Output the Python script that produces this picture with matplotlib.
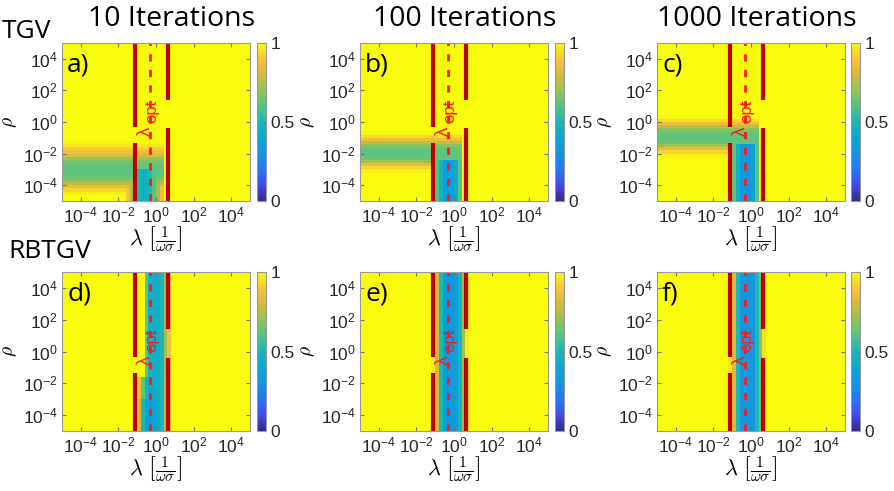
import numpy as np
import matplotlib
matplotlib.use('Agg')
import matplotlib.pyplot as plt
from matplotlib.colors import LinearSegmentedColormap
from matplotlib.ticker import NullLocator
from matplotlib.transforms import offset_copy

plt.rcParams['font.family'] = ['Liberation Sans', 'DejaVu Sans']
plt.rcParams['mathtext.fontset'] = 'cm'

# parula-like colormap (approximate anchors)
parula_pos = [0.0, 0.1, 0.2, 0.3, 0.4, 0.5, 0.6, 0.7, 0.8, 0.9, 0.95, 1.0]
parula_rgb = [(0.208, 0.166, 0.529), (0.263, 0.290, 0.930), (0.130, 0.470, 0.960),
              (0.070, 0.580, 0.890), (0.040, 0.660, 0.820), (0.100, 0.720, 0.720),
              (0.320, 0.770, 0.520), (0.580, 0.760, 0.340), (0.830, 0.730, 0.240),
              (0.990, 0.760, 0.220), (0.960, 0.880, 0.150), (0.976, 0.983, 0.054)]
parula = LinearSegmentedColormap.from_list('parula', list(zip(parula_pos, parula_rgb)))

# grid: log10 cell edges for lambda and rho
log_edges = np.linspace(-5, 5, 51)
lam_edges = 10.0 ** log_edges
rho_edges = 10.0 ** log_edges

# marker lines
lam_low = 0.074
lam_high = 4.5
lam_opt = 0.5
gap_low = (10 ** -1.33, 10 ** -0.32)   # gap in left line
gap_high = (10 ** -0.38, 10 ** 1.39)   # gap in right line
label_pos = (0.4, 1.35)

# TGV: horizontal band (rows) + column between the lines
band_a_start, band_a = -4.6, [0.98, 0.93, 0.85, 0.76, 0.68, 0.64, 0.62, 0.62, 0.62,
                              0.63, 0.66, 0.72, 0.80, 0.86, 0.92, 0.96, 0.99]
band_b_start, band_b = -3.2, [0.98, 0.93, 0.84, 0.72, 0.64, 0.62, 0.62, 0.63, 0.68,
                              0.78, 0.87, 0.94, 0.99]
band_c_start, band_c = -2.2, [0.98, 0.93, 0.84, 0.72, 0.64, 0.62, 0.62, 0.63, 0.68,
                              0.78, 0.87, 0.94, 0.99]
col_tgv_start = -1.6
col_a = [0.90, 0.75, 0.60, 0.50, 0.45, 0.45, 0.50, 0.60, 0.72, 0.88, 1.0]
col_b = [1.0, 1.0, 1.0, 0.60, 0.45, 0.35, 0.33, 0.35, 0.42, 0.60, 1.0]
col_c = [1.0, 1.0, 1.0, 0.62, 0.45, 0.33, 0.32, 0.32, 0.40, 0.62, 1.0]
col_top = {'a': -3.0, 'b': -2.4, 'c': -1.4}
band_end = 0.4

# RBTGV: vertical column profiles
col_rb_start = -1.2
col_d_top = [1.0, 1.0, 1.0, 0.62, 0.45, 0.44, 0.45, 0.50, 0.72, 0.88]
col_d_mid = [1.0, 0.90, 0.62, 0.48, 0.42, 0.42, 0.44, 0.50, 0.75, 0.90]
col_d_bot = [0.95, 0.80, 0.50, 0.38, 0.36, 0.38, 0.42, 0.50, 0.78, 0.88]
d_breaks = [-3.0, -1.6]
col_e = [0.97, 0.80, 0.50, 0.35, 0.33, 0.33, 0.35, 0.48, 0.72, 0.97]
col_f = [0.95, 0.82, 0.50, 0.32, 0.32, 0.32, 0.32, 0.50, 0.68, 0.95]


def idx(v):
    return int(round((v + 5) / 0.2))


def tgv_map(b_start, b_vals, c_vals, c_top):
    Z = np.ones((50, 50))
    r0 = idx(b_start)
    ce = idx(band_end)
    for k, v in enumerate(b_vals):
        Z[r0 + k, :ce] = np.minimum(Z[r0 + k, :ce], v)
    c0 = idx(col_tgv_start)
    rt = idx(c_top)
    for k, v in enumerate(c_vals):
        Z[:rt, c0 + k] = np.minimum(Z[:rt, c0 + k], v)
    return Z


def rb_map(profiles, breaks):
    Z = np.ones((50, 50))
    c0 = idx(col_rb_start)
    rows = [0] + [idx(b) for b in breaks] + [50]
    for p, prof in enumerate(profiles):
        for k, v in enumerate(prof):
            Z[rows[p]:rows[p + 1], c0 + k] = v
    return Z


maps = [tgv_map(band_a_start, band_a, col_a, col_top['a']),
        tgv_map(band_b_start, band_b, col_b, col_top['b']),
        tgv_map(band_c_start, band_c, col_c, col_top['c']),
        rb_map([col_d_bot, col_d_mid, col_d_top], d_breaks),
        rb_map([col_e], []),
        rb_map([col_f], [])]
letters = ['a)', 'b)', 'c)', 'd)', 'e)', 'f)']
titles = ['10 Iterations', '100 Iterations', '1000 Iterations']

W, H = 894, 491
fig = plt.figure(figsize=(W / 100, H / 100), dpi=100)

ax_left = [62, 360, 657]
cb_left = [257, 555, 851]
row_top = [43, 272]
row_h = [158, 159]
ticks = [1e-4, 1e-2, 1, 1e2, 1e4]

for i in range(6):
    r, c = divmod(i, 3)
    ax = fig.add_axes([ax_left[c] / W, 1 - (row_top[r] + row_h[r]) / H, 188 / W, row_h[r] / H])
    m = ax.pcolormesh(lam_edges, rho_edges, maps[i], cmap=parula, vmin=0, vmax=1, shading='flat')
    ax.set_xscale('log')
    ax.set_yscale('log')
    ax.set_xlim(1e-5, 1e5)
    ax.set_ylim(1e-5, 1e5)
    ax.set_xticks(ticks)
    ax.set_yticks(ticks)
    ax.xaxis.set_minor_locator(NullLocator())
    ax.yaxis.set_minor_locator(NullLocator())
    ax.tick_params(direction='in', length=3, top=True, right=True, labelsize=12.5,
                   colors='0.45', labelcolor='0.15', pad=3)
    for s in ax.spines.values():
        s.set_color('0.6')
        s.set_linewidth(0.8)

    # red marker lines
    ax.vlines([lam_low, lam_low], [1e-5, gap_low[1]], [gap_low[0], 1e5], color='#c00000', lw=3)
    ax.vlines([lam_high, lam_high], [1e-5, gap_high[1]], [gap_high[0], 1e5], color='#c00000', lw=3)
    ax.axvline(lam_opt, color='#ff1a1a', lw=2, ls=(0, (2.6, 3.0)))
    # rotated "lambda_opt" label: lambda below, subscript above and to the right
    t_lam = offset_copy(ax.transData, fig=fig, x=-2.2, y=-7.9, units='points')
    t_opt = offset_copy(ax.transData, fig=fig, x=2.4, y=6.3, units='points')
    ax.text(label_pos[0], label_pos[1], 'λ', transform=t_lam, color='#ff1a1a',
            fontsize=13.5, rotation=90, ha='center', va='center')
    ax.text(label_pos[0], label_pos[1], 'opt', transform=t_opt, color='#ff1a1a',
            fontsize=12, rotation=90, ha='center', va='center')

    ax.text(0.027, 0.94, letters[i], transform=ax.transAxes, va='top', ha='left',
            fontsize=19, family='Open Sans')
    ax.set_ylabel(r'$\rho$', fontsize=14)
    ax.yaxis.set_label_coords(-52 / 188, 0.5)
    ax.yaxis.label.set_va('center')
    ax.set_xlabel(r'$\lambda\ \left[\frac{1}{\omega\sigma}\right]$', fontsize=16)
    ax.xaxis.set_label_coords(0.5, -39 / row_h[r])
    ax.xaxis.label.set_va('center')

    cax = fig.add_axes([cb_left[c] / W, 1 - (row_top[r] + row_h[r]) / H, 9 / W, row_h[r] / H])
    cb = fig.colorbar(m, cax=cax, ticks=[0, 0.5, 1])
    cb.ax.set_yticklabels(['0', '0.5', '1'])
    cb.ax.tick_params(direction='in', length=2, labelsize=12.5, colors='0.45',
                      labelcolor='0.15', pad=3)
    cb.outline.set_edgecolor('0.6')
    cb.outline.set_linewidth(0.8)

title_x = [172, 465, 757]
for c in range(3):
    fig.text(title_x[c] / W, 1 - 26 / H, titles[c], ha='center', va='baseline',
             fontsize=20.5, family='Open Sans')
fig.text(2 / W, 1 - 38 / H, 'TGV', ha='left', va='baseline', fontsize=19, family='Open Sans')
fig.text(8 / W, 1 - 258 / H, 'RBTGV', ha='left', va='baseline', fontsize=19, family='Open Sans')

fig.savefig('out.png', dpi=100)
